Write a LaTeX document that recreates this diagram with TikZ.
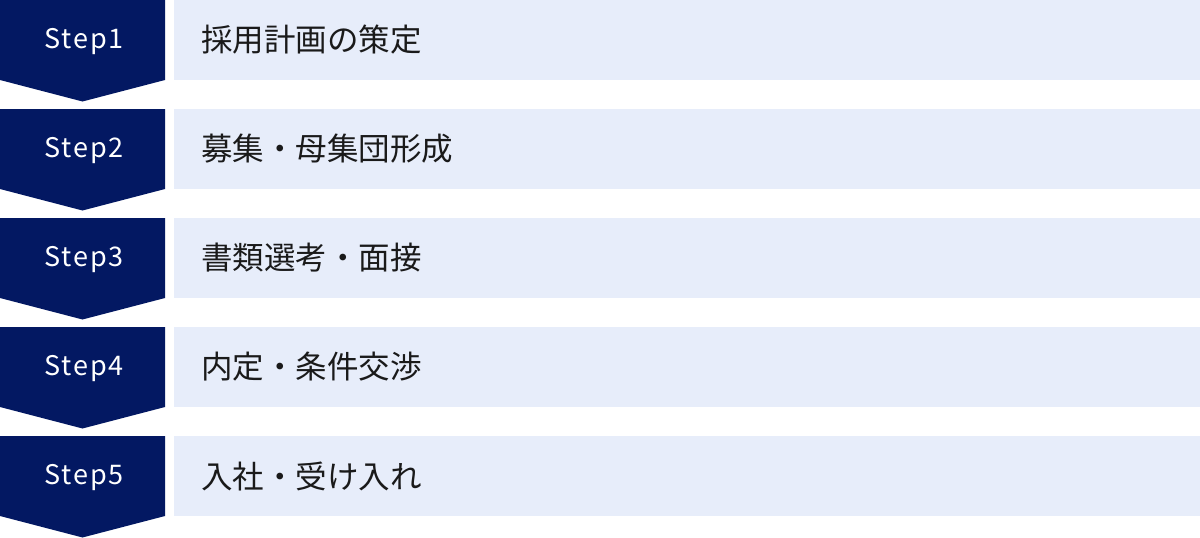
\documentclass[tikz,border=0pt]{standalone}
\usepackage{fontspec}
\setmainfont{Noto Sans CJK JP}
\newfontfamily\stepfont[LetterSpace=7]{Noto Sans CJK JP}
\definecolor{navy}{HTML}{031862}
\definecolor{lightbox}{HTML}{E7EDFA}
\definecolor{ink}{HTML}{1A1A1A}
\tikzset{
  steplabel/.style={text=white,font=\stepfont\fontsize{27}{27}\selectfont,anchor=center,inner sep=0pt},
  tasklabel/.style={text=ink,font=\fontsize{31.5}{32}\selectfont,anchor=west,inner sep=0pt},
}
\begin{document}
\begin{tikzpicture}[x=1pt,y=-1pt]
\useasboundingbox (0,0) rectangle (1200,538);
\foreach \k/\txt in {0/採用計画の策定,1/募集・母集団形成,2/書類選考・面接,3/内定・条件交渉,4/入社・受け入れ}{
  \pgfmathsetmacro{\t}{109*\k}
  \fill[navy] (0,\t) -- (165,\t) -- (165,\t+80) -- (82.5,\t+101.5) -- (0,\t+80) -- cycle;
  \fill[lightbox] (174,\t) rectangle (1200,\t+80);
  \pgfmathtruncatemacro{\n}{\k+1}
  \node[steplabel] (s\n) at (84,\t+42) {Step\n};
  \node[tasklabel] (t\n) at (201,\t+40) {\txt};
}
\end{tikzpicture}
\end{document}
